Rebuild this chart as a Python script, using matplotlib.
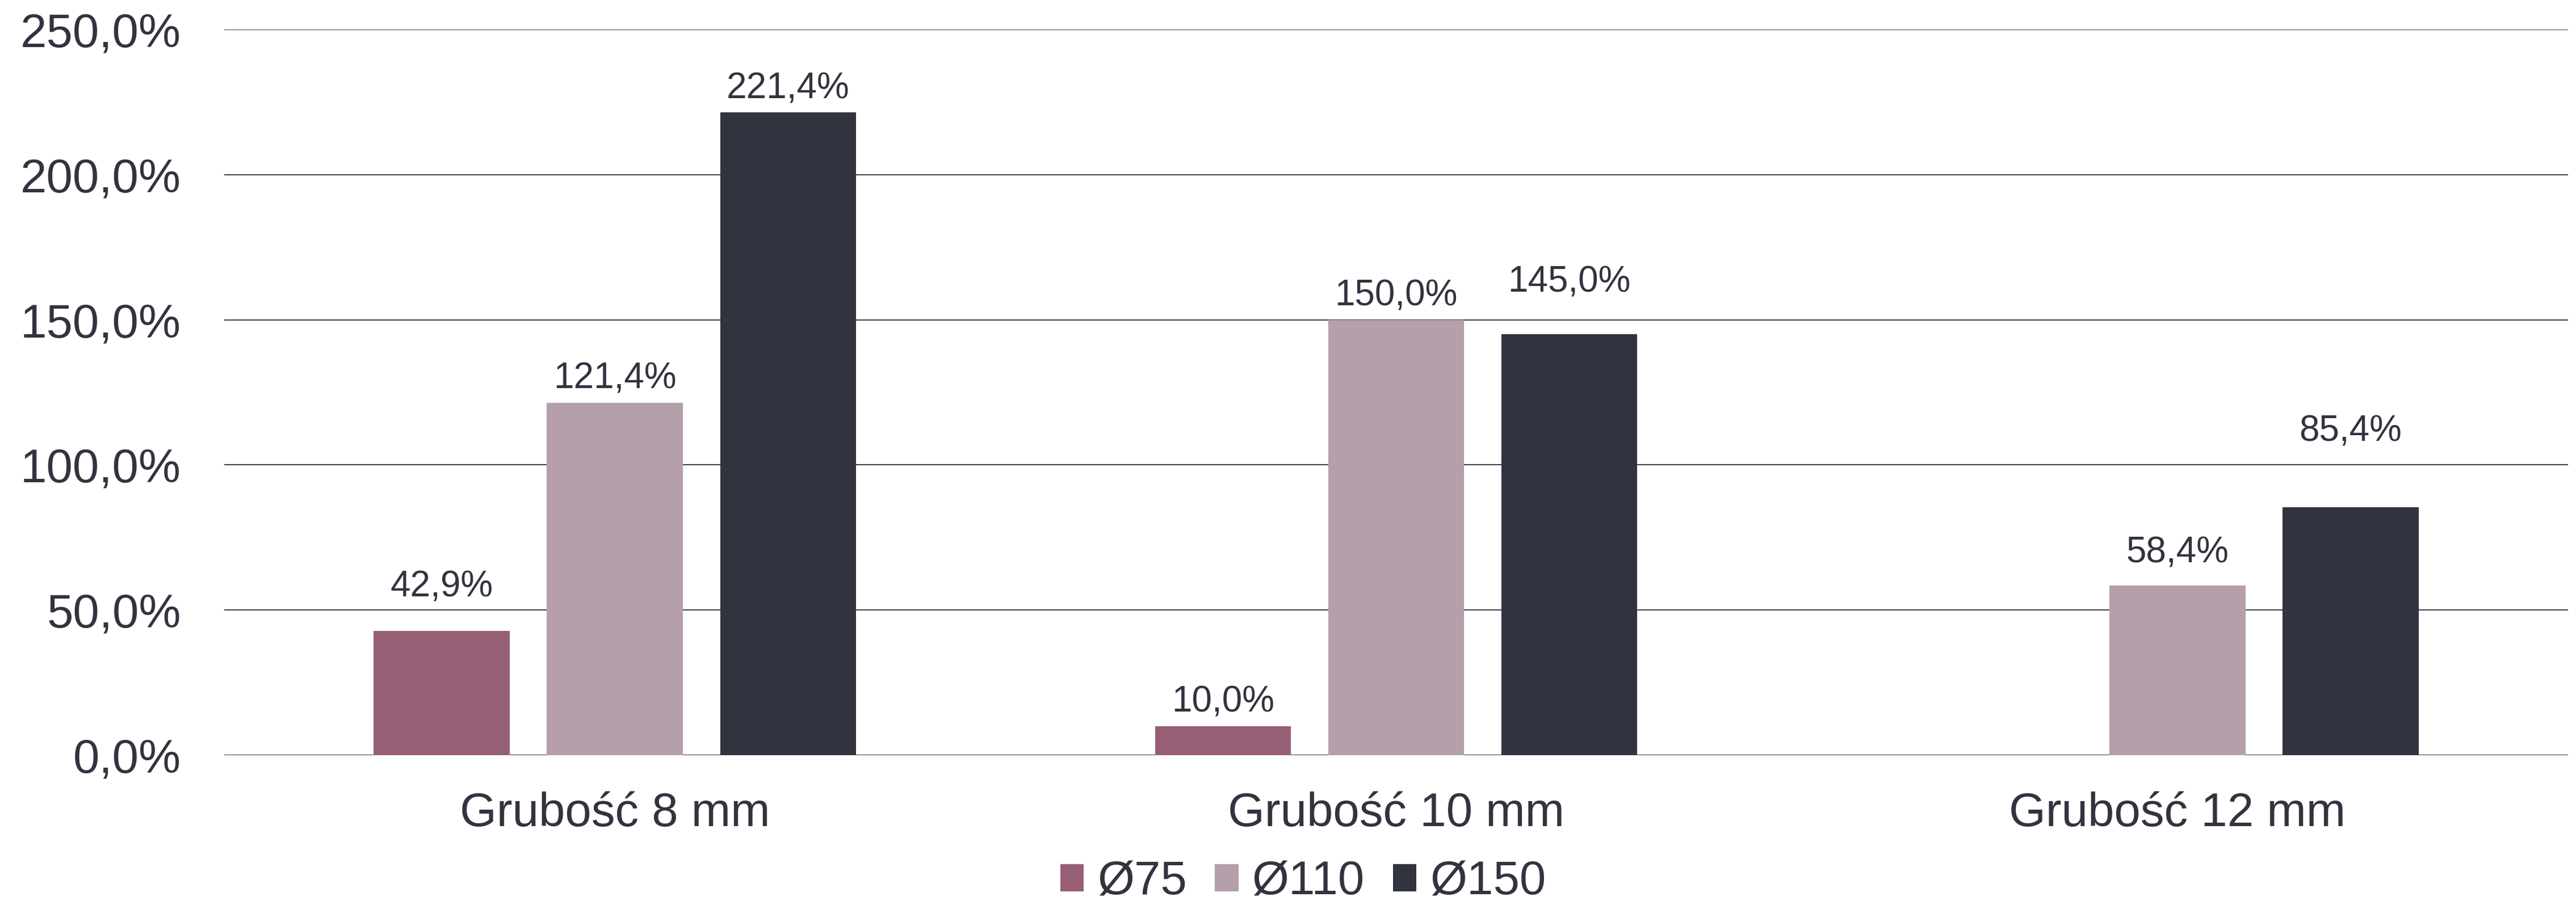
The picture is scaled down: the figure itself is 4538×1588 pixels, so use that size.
import numpy as np
import matplotlib.pyplot as plt

# grubości płyt i średnice otworów
categories = ["Grubość 8 mm", "Grubość 10 mm", "Grubość 12 mm"]
series = ["Ø75", "Ø110", "Ø150"]
d75 = [42.9, 10.0, np.nan]
d110 = [121.4, 150.0, 58.4]
d150 = [221.4, 145.0, 85.4]
values = [d75, d110, d150]

colors = ["#975F76", "#B49FAA", "#31343F"]
text_color = "#31343F"

# extra lift (points) for labels sitting higher above their bars
extra_lift = {(0, 0): 25, (1, 2): 11, (2, 1): 36, (2, 2): 66}

plt.rcParams['font.family'] = ['Liberation Sans', 'DejaVu Sans']

fig = plt.figure(figsize=(45.38, 15.88), dpi=100)
ax = fig.add_axes([395 / 4538, 1 - 1331 / 1588, (4524 - 395) / 4538, (1331 - 52) / 1588])

x = np.arange(len(categories))
width = 0.174
step = 0.2217

for i, (name, vals, col) in enumerate(zip(series, values, colors)):
    pos = x + (i - 1) * step
    ax.bar(pos, vals, width, color=col, label=name, zorder=3)
    for j, v in enumerate(vals):
        if np.isnan(v):
            continue
        lift = 18 + extra_lift.get((i, j), 0)
        ax.annotate(f"{v:.1f}%".replace(".", ","), (pos[j], v),
                    xytext=(0, lift), textcoords="offset points",
                    ha="center", va="baseline", fontsize=46, color=text_color)

ax.set_xlim(-0.5, 2.5)
ax.set_ylim(0, 250)
yticks = np.arange(0, 251, 50)
ax.set_yticks(yticks)
ax.set_yticklabels([f"{t:.1f}%".replace(".", ",") for t in yticks])
ax.set_xticks(x)
ax.set_xticklabels(categories)

ax.grid(axis="y", color="#3a3d48", linewidth=1.4, zorder=0)
ax.set_axisbelow(True)
for s in ax.spines.values():
    s.set_visible(False)
ax.tick_params(axis="both", length=0, labelsize=60, labelcolor=text_color)
ax.tick_params(axis="y", pad=55)
ax.tick_params(axis="x", pad=46)

leg = fig.legend(loc="center", bbox_to_anchor=(0.5058, 0.021), ncol=3, frameon=False,
                 fontsize=60, handlelength=0.5, handleheight=0.5,
                 handletextpad=0.28, columnspacing=0.6, borderpad=0)
for t in leg.get_texts():
    t.set_color(text_color)

fig.savefig("out.png", dpi=100)
